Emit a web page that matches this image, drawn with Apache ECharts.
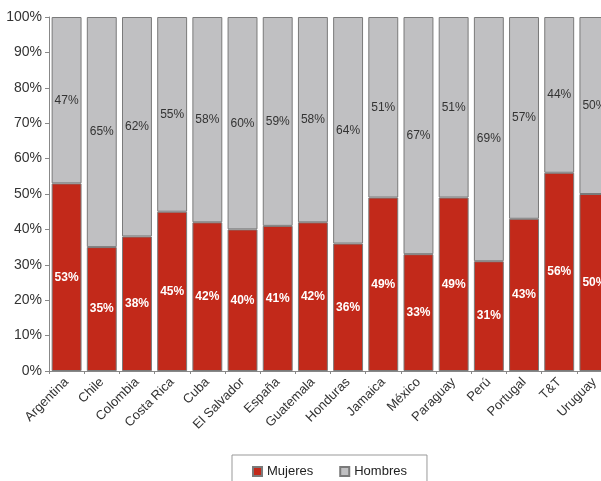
<!DOCTYPE html>
<html>
<head>
<meta charset="utf-8">
<script src="https://cdn.jsdelivr.net/npm/echarts@6/dist/echarts.min.js"></script>
<style>html,body{margin:0;padding:0;background:#fff;overflow:hidden;width:601px;height:481px}#c{width:616px;height:481px}</style>
</head>
<body>
<div id="c"></div>
<script>
var categories = ["Argentina","Chile","Colombia","Costa Rica","Cuba","El Salvador","España","Guatemala","Honduras","Jamaica","México","Paraguay","Perú","Portugal","T&T","Uruguay"];
var mujeres = [53,35,38,45,42,40,41,42,36,49,33,49,31,43,56,50];
var hombres = [47,65,62,55,58,60,59,58,64,51,67,51,69,57,44,50];
var yTicks = [0,10,20,30,40,50,60,70,80,90,100];

var chart = echarts.init(document.getElementById('c'));
chart.setOption({
  animation: false,
  textStyle: {fontFamily: 'Liberation Sans, Arial, sans-serif'},
  grid: {left: 49, right: 4, top: 17, bottom: 110, containLabel: false},
  legend: {
    data: [{name:'Mujeres', icon:'rect'}, {name:'Hombres', icon:'rect'}],
    left: 232, top: 455,
    itemWidth: 9, itemHeight: 9, itemGap: 26,
    padding: [10, 20, 10, 20],
    borderColor: '#999', borderWidth: 1,
    textStyle: {fontSize: 13, color: '#222'}
  },
  xAxis: {
    type: 'category', data: categories,
    axisLine: {lineStyle: {color: '#888'}},
    axisTick: {show: true, length: 3, lineStyle: {color: '#888'}},
    axisLabel: {rotate: 45, fontSize: 13, color: '#333', margin: 9, interval: 0}
  },
  yAxis: {
    type: 'value', min: 0, max: 100, interval: 10,
    splitLine: {show: false},
    axisLine: {show: true, lineStyle: {color: '#888'}},
    axisTick: {show: true, length: 4, lineStyle: {color: '#888'}},
    axisLabel: {fontSize: 14, color: '#333', margin: 7,
      formatter: function(v){ return yTicks.indexOf(v) >= 0 ? v + '%' : ''; }}
  },
  series: [
    {name: 'Mujeres', type: 'bar', stack: 't', data: mujeres, barCategoryGap: '15%',
     itemStyle: {color: '#C2291A', borderColor: '#7a7a7a', borderWidth: 1},
     label: {show: true, position: 'inside', color: '#fff', fontWeight: 'bold', fontSize: 12,
       formatter: function(p){ return p.value + '%'; }}},
    {name: 'Hombres', type: 'bar', stack: 't', data: hombres,
     itemStyle: {color: '#C0C0C2', borderColor: '#7a7a7a', borderWidth: 1},
     label: {show: true, position: 'inside', color: '#333', fontSize: 12,
       formatter: function(p){ return p.value + '%'; }}}
  ]
});
</script>
</body>
</html>
